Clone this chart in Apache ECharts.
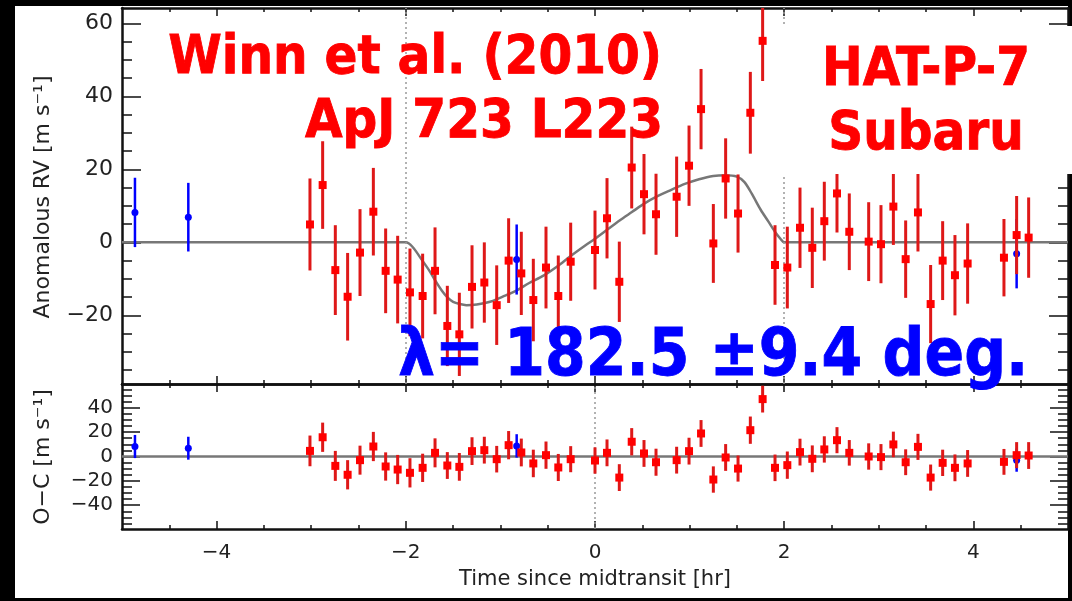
<!DOCTYPE html>
<html>
<head>
<meta charset="utf-8">
<script src="https://cdn.jsdelivr.net/npm/echarts@6/dist/echarts.min.js"></script>
<style>
  html, body { margin: 0; padding: 0; background: #000; }
  #paper { position: absolute; left: 15px; top: 6px; width: 1053px; height: 592px; background: #fff; }
  #chart { position: absolute; left: 0; top: 0; width: 1072px; height: 601px; }
</style>
</head>
<body>
<div id="paper"></div>
<div id="chart"></div>
<script>
// 红点: Subaru 数据 (时间 / RV / 误差 / O-C)
var redTime = [-3.013, -2.879, -2.745, -2.615, -2.484, -2.343, -2.213, -2.086, -1.956, -1.822,
  -1.691, -1.561, -1.434, -1.300, -1.170, -1.039, -0.913, -0.779, -0.652, -0.518,
  -0.388, -0.257, 0.000, 0.127, 0.257, 0.388, 0.518, 0.645, 0.863, 0.994,
  1.121, 1.251, 1.381, 1.512, 1.642, 1.772, 1.903, 2.033, 2.167, 2.297,
  2.424, 2.558, 2.688, 2.893, 3.023, 3.154, 3.284, 3.414, 3.548, 3.675,
  3.805, 3.939, 4.323, 4.457, 4.584]
var redRV = [4.9, 15.7, -7.6, -14.9, -2.8, 8.4, -7.8, -10.2, -13.7, -14.7,
  -7.8, -22.9, -25.2, -12.2, -11.0, -17.2, -5.0, -8.5, -15.8, -6.9,
  -14.7, -5.3, -2.1, 6.6, -10.8, 20.5, 13.2, 7.7, 12.5, 21.0,
  36.5, -0.3, 17.5, 7.9, 35.5, 55.2, -6.2, -6.9, 4.0, -1.5,
  5.8, 13.4, 2.9, 0.2, -0.5, 9.8, -4.6, 8.2, -16.9, -5.0,
  -9.0, -5.8, -4.2, 2.0, 1.3]
var redErr = [12.6, 12.0, 12.3, 12.0, 11.9, 12.0, 11.6, 12.0, 12.0, 11.6,
  11.9, 11.0, 11.4, 11.4, 11.0, 10.9, 11.6, 11.4, 11.3, 11.2,
  11.1, 10.7, 10.8, 11.0, 11.0, 11.2, 11.0, 11.1, 11.0, 11.0,
  11.0, 10.8, 11.0, 10.7, 11.2, 11.0, 10.9, 11.2, 11.0, 11.0,
  10.8, 10.7, 10.5, 10.8, 10.7, 10.5, 10.6, 10.7, 10.7, 10.8,
  11.0, 11.0, 10.6, 10.7, 11.0]
var redOC = [4.6, 15.8, -7.7, -15.0, -3.0, 8.2, -8.2, -10.7, -13.4, -9.3,
  3.0, -7.4, -8.5, 4.4, 5.2, -2.2, 9.3, 3.3, -5.7, 1.1,
  -9.0, -2.2, -3.3, 3.0, -17.3, 12.1, 2.5, -4.7, -3.0, 4.4,
  18.9, -18.9, -0.8, -9.9, 21.6, 47.1, -9.3, -7.1, 3.6, -1.9,
  5.8, 13.4, 3.0, 0.0, -0.5, 9.9, -4.7, 7.9, -17.3, -5.2,
  -9.3, -5.7, -4.4, 1.1, 0.8]

// 蓝点
var blueTime = [-4.863, -4.299, -0.828, 4.457]
var blueRV = [8.2, 6.9, -4.7, -3.1]
var blueErr = [9.5, 9.4, 9.6, 9.5]
var blueOC = [8.2, 6.8, 8.7, -3.0]

// 模型曲线
var modelTime = [-5, -2.0, -1.93, -1.83, -1.75, -1.69, -1.62, -1.56, -1.5, -1.43,
  -1.36, -1.25, -1.1, -0.95, -0.83, -0.7, -0.55, -0.4, -0.26, -0.1,
  0.0, 0.13, 0.26, 0.39, 0.52, 0.65, 0.8, 0.95, 1.1, 1.25,
  1.38, 1.5, 1.58, 1.66, 1.75, 1.83, 1.9, 1.96, 2.0, 5]
var modelRV = [0, 0, -1.2, -4.8, -7.8, -10.4, -13.2, -15.1, -16.3, -16.9,
  -17.2, -17.0, -16.2, -14.6, -13.2, -11.2, -9.2, -6.6, -3.8, -0.8,
  1.0, 3.5, 6.0, 8.3, 10.6, 12.5, 14.3, 16.0, 17.3, 18.2,
  18.4, 18.0, 16.5, 13.2, 9.0, 5.8, 3.0, 1.0, 0, 0]

// 刻度
var xMajor = [-4, -2, 0, 2, 4]
var yTopMajor = [-20, 0, 20, 40, 60]
var yBotMajor = [-40, -20, 0, 20, 40]

function steps(a, b, s) {
  var out = []
  for (var v = a; v <= b + 1e-9; v += s) out.push(Math.round(v * 100) / 100)
  return out
}
var xMinor = steps(-4.5, 4.5, 0.5)
var yTopMinor = steps(-35, 60, 5)
var yBotMinor = steps(-55, 55, 5)

function fmt(v) { return v < 0 ? '\u2212' + (-v) : String(v) }

var AXIS_COLOR = '#111'
var LABEL_FONT = 'DejaVu Sans'
var BIG_FONT = '"DejaVu Sans Condensed", "DejaVu Sans"'

function xAx(grid, pos, ticks, len, showLine, labels) {
  return {
    type: 'value', gridIndex: grid, position: pos, min: -5, max: 5,
    axisLine: { show: showLine, onZero: false, lineStyle: { color: AXIS_COLOR, width: 2.5 } },
    axisTick: { show: true, inside: true, length: len, customValues: ticks, lineStyle: { color: AXIS_COLOR, width: 1.5 } },
    axisLabel: labels ? { show: true, customValues: labels, formatter: fmt, fontFamily: LABEL_FONT, fontSize: 20, color: '#222', margin: 14 } : { show: false },
    splitLine: { show: false }
  }
}
function yAx(grid, pos, min, max, ticks, len, showLine, labels, fs) {
  return {
    type: 'value', gridIndex: grid, position: pos, min: min, max: max,
    axisLine: { show: showLine, onZero: false, lineStyle: { color: AXIS_COLOR, width: 2.5 } },
    axisTick: { show: true, inside: true, length: len, customValues: ticks, lineStyle: { color: AXIS_COLOR, width: 1.5 } },
    axisLabel: labels ? { show: true, customValues: labels, formatter: fmt, fontFamily: LABEL_FONT, fontSize: fs, color: '#222', margin: 9 } : { show: false },
    splitLine: { show: false }
  }
}

function errBar(color, width) {
  return function (params, api) {
    var x = api.value(0), y = api.value(1), e = api.value(2)
    var p1 = api.coord([x, y + e]), p2 = api.coord([x, y - e])
    return {
      type: 'line',
      shape: { x1: p1[0], y1: p1[1], x2: p2[0], y2: p2[1] },
      style: { stroke: color, lineWidth: width }
    }
  }
}
function zip3(a, b, c) { return a.map(function (v, i) { return [v, b[i], c[i]] }) }
function zip2(a, b) { return a.map(function (v, i) { return [v, b[i]] }) }

var RED_BAR = 'rgb(222,24,24)'
var RED = '#ff0000'
var BLUE = '#0000ff'

function pointSeries(ax, topPanel) {
  var blue = zip3(blueTime, topPanel ? blueRV : blueOC, blueErr)
  var red = zip3(redTime, topPanel ? redRV : redOC, redErr)
  return [
    { type: 'custom', xAxisIndex: ax, yAxisIndex: ax, clip: true, z: 3, renderItem: errBar(BLUE, 2.5), encode: { x: 0, y: 1 }, data: blue },
    { type: 'scatter', xAxisIndex: ax, yAxisIndex: ax, z: 4, symbol: 'circle', symbolSize: 7, itemStyle: { color: BLUE, opacity: 1 }, data: zip2(blueTime, topPanel ? blueRV : blueOC) },
    { type: 'custom', xAxisIndex: ax, yAxisIndex: ax, clip: true, z: 5, renderItem: errBar(RED_BAR, 3), encode: { x: 0, y: 1 }, data: red },
    { type: 'scatter', xAxisIndex: ax, yAxisIndex: ax, z: 6, symbol: 'rect', symbolSize: 8, itemStyle: { color: RED, opacity: 1 }, data: zip2(redTime, topPanel ? redRV : redOC) }
  ]
}

function bigText(str, x, y, size, color, align) {
  return {
    type: 'text', z: 60, x: x, y: y,
    style: { text: str, fill: color, stroke: color, lineWidth: 0.8, font: 'bold ' + size + 'px ' + BIG_FONT, align: align, textAlign: align, verticalAlign: 'middle', textVerticalAlign: 'middle' }
  }
}

var dotted = { type: [2, 3], color: '#999', width: 1.5 }

var chart = echarts.init(document.getElementById('chart'))
var option = {
  animation: false,
  backgroundColor: 'transparent',
  grid: [
    { left: 122, top: 8, width: 946, height: 376 },
    { left: 122, top: 384, width: 946, height: 145 }
  ],
  xAxis: [
    xAx(0, 'bottom', xMajor, 8, true, null),
    xAx(0, 'bottom', xMinor, 4, false, null),
    xAx(0, 'top', xMajor, 8, true, null),
    xAx(0, 'top', xMinor, 4, false, null),
    xAx(1, 'bottom', xMajor, 8, true, xMajor),
    xAx(1, 'bottom', xMinor, 4, false, null),
    xAx(1, 'top', xMajor, 8, true, null),
    xAx(1, 'top', xMinor, 4, false, null)
  ],
  yAxis: [
    yAx(0, 'left', -38.8, 64.2, yTopMajor, 19, true, yTopMajor, 22),
    yAx(0, 'left', -38.8, 64.2, yTopMinor, 10, false, null),
    yAx(0, 'right', -38.8, 64.2, yTopMajor, 19, true, null),
    yAx(0, 'right', -38.8, 64.2, yTopMinor, 10, false, null),
    yAx(1, 'left', -59.5, 59.5, yBotMajor, 18, true, yBotMajor, 20),
    yAx(1, 'left', -59.5, 59.5, yBotMinor, 10, false, null),
    yAx(1, 'right', -59.5, 59.5, yBotMajor, 18, true, null),
    yAx(1, 'right', -59.5, 59.5, yBotMinor, 10, false, null)
  ],
  series: [
    {
      type: 'line', xAxisIndex: 0, yAxisIndex: 0, z: 2, showSymbol: false, smooth: 0.3,
      lineStyle: { color: '#777', width: 2.5 },
      data: zip2(modelTime, modelRV),
      markLine: { silent: true, symbol: 'none', label: { show: false }, lineStyle: dotted, data: [{ xAxis: -2 }, { xAxis: 2 }] }
    },
    {
      type: 'line', xAxisIndex: 4, yAxisIndex: 4, z: 2, showSymbol: false,
      lineStyle: { color: '#777', width: 2.5 },
      data: [[-5, 0], [5, 0]],
      markLine: { silent: true, symbol: 'none', label: { show: false }, lineStyle: dotted, data: [{ xAxis: 0 }] }
    }
  ].concat(pointSeries(0, true)).concat(pointSeries(4, false)),
  graphic: [
    { type: 'rect', z: 50, silent: true, shape: { x: 775, y: 26, width: 297, height: 148 }, style: { fill: '#fff' } },
    bigText('Winn et al. (2010)', 662, 59, 54, RED, 'right'),
    bigText('ApJ 723 L223', 663, 123, 54, RED, 'right'),
    bigText('HAT-P-7', 926, 71, 54, RED, 'center'),
    bigText('Subaru', 926, 135, 54, RED, 'center'),
    bigText('\u03bb= 182.5 \u00b19.4 deg.', 398, 358, 65, BLUE, 'left'),
    { type: 'text', z: 60, x: 43, y: 197, rotation: Math.PI / 2, style: { text: 'Anomalous RV [m s\u207b\u00b9]', fill: '#222', font: '22px "DejaVu Sans"', align: 'center', textAlign: 'center', verticalAlign: 'middle', textVerticalAlign: 'middle' } },
    { type: 'text', z: 60, x: 43, y: 457, rotation: Math.PI / 2, style: { text: 'O\u2212C [m s\u207b\u00b9]', fill: '#222', font: '22px "DejaVu Sans"', align: 'center', textAlign: 'center', verticalAlign: 'middle', textVerticalAlign: 'middle' } },
    { type: 'text', z: 60, x: 595, y: 580, style: { text: 'Time since midtransit [hr]', fill: '#222', font: '21px "DejaVu Sans"', align: 'center', textAlign: 'center', verticalAlign: 'middle', textVerticalAlign: 'middle' } }
  ]
}
chart.setOption(option)
</script>
</body>
</html>
